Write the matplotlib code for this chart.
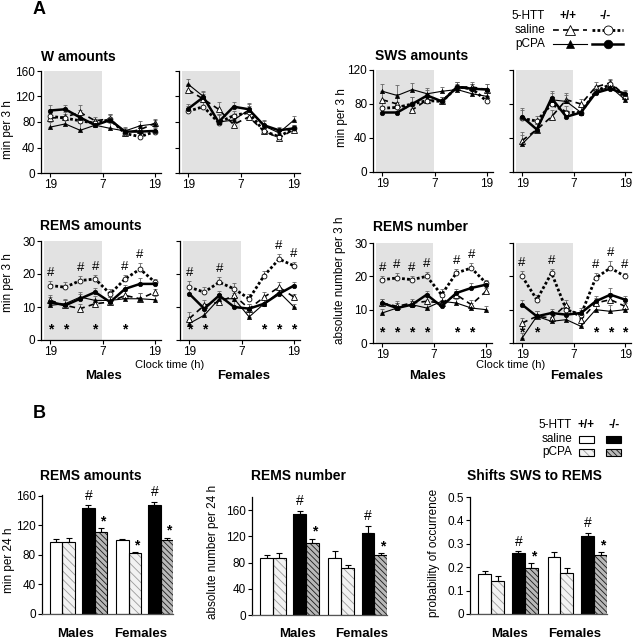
import numpy as np
import matplotlib
matplotlib.use("Agg")
import matplotlib.pyplot as plt

plt.rcParams['font.family'] = ['Liberation Sans', 'DejaVu Sans']
plt.rcParams['hatch.linewidth'] = 0.6

# ---- panel A data: 8 three-hour bins, 19h -> 19h ----
bins = np.arange(8)

# W amounts (min per 3 h)
w_m_wt_sal = [86, 88, 95, 82, 85, 63, 68, 78]
w_m_ko_sal = [89, 86, 82, 78, 84, 62, 57, 65]
w_m_wt_pcpa = [72, 77, 67, 75, 70, 66, 74, 77]
w_m_ko_pcpa = [98, 100, 87, 75, 83, 65, 65, 66]
w_m_err = [8, 7, 12, 6, 8, 6, 8, 6]
w_f_wt_sal = [130, 116, 100, 76, 88, 66, 55, 68]
w_f_ko_sal = [97, 104, 79, 90, 95, 66, 57, 70]
w_f_wt_pcpa = [139, 120, 80, 83, 99, 74, 63, 83]
w_f_ko_pcpa = [101, 119, 80, 104, 100, 75, 67, 70]
w_f_err = [8, 8, 12, 8, 10, 8, 5, 6]

# SWS amounts (min per 3 h)
s_m_wt_sal = [85, 80, 73, 85, 83, 100, 100, 97]
s_m_ko_sal = [75, 76, 80, 84, 83, 100, 98, 83]
s_m_wt_pcpa = [95, 90, 97, 92, 95, 97, 92, 89]
s_m_ko_pcpa = [70, 70, 80, 90, 83, 100, 98, 97]
s_m_err = [8, 12, 8, 7, 5, 6, 6, 6]
s_f_wt_sal = [37, 50, 65, 85, 80, 100, 105, 90]
s_f_ko_sal = [63, 60, 80, 70, 70, 95, 103, 88]
s_f_wt_pcpa = [33, 50, 85, 83, 70, 95, 100, 85]
s_f_ko_pcpa = [65, 50, 87, 65, 70, 93, 98, 92]
s_f_err = [10, 6, 8, 8, 6, 6, 5, 5]

# REMS amounts (min per 3 h)
ra_m_wt_sal = [12, 10.5, 9.5, 11, 11.5, 13.5, 12.5, 14.5]
ra_m_ko_sal = [16.5, 16, 18, 18.5, 14, 18.5, 21.5, 17.5]
ra_m_wt_pcpa = [10.5, 11, 13, 12, 12, 12.5, 12.5, 12.2]
ra_m_ko_pcpa = [11.5, 10.5, 12.5, 14.5, 11.5, 15.5, 17, 17]
ra_m_err = [1.5, 1.5, 1.5, 1.2, 1.5, 1.2, 1.8, 1.0]
ra_f_wt_sal = [6.5, 10.5, 11.5, 13.5, 9.5, 13, 16, 13]
ra_f_ko_sal = [16, 14.5, 17.5, 15.5, 12.5, 19.5, 24.5, 22.5]
ra_f_wt_pcpa = [5, 7.5, 12.5, 12.5, 7, 11, 14.5, 10]
ra_f_ko_pcpa = [14, 9.5, 13.5, 10, 9.5, 11, 14, 16.5]
ra_f_err = [2, 1.5, 1.5, 1.8, 1.5, 1.5, 1.5, 1.0]
ra_m_hash = [0, 2, 3, 5, 6]
ra_m_star = [0, 1, 3, 5]
ra_f_hash = [0, 2, 6, 7]
ra_f_star = [0, 1, 5, 6, 7]

# REMS number (absolute number per 3 h)
rn_m_wt_sal = [12, 11, 12, 12.5, 12, 14.5, 11.5, 15.5]
rn_m_ko_sal = [19, 19.5, 19, 20, 14.5, 21, 22.5, 18]
rn_m_wt_pcpa = [9, 10.5, 11.5, 10.5, 12.5, 12, 10.5, 10]
rn_m_ko_pcpa = [12, 10.5, 11.5, 14.5, 11, 15, 16.5, 17.5]
rn_m_err = [1.2, 1.5, 1.2, 1.2, 1.8, 1.2, 1.5, 1.0]
rn_f_wt_sal = [6, 8, 7.5, 11.5, 7, 12, 13, 11]
rn_f_ko_sal = [20, 13, 21, 10, 8.5, 19.5, 22.5, 20]
rn_f_wt_pcpa = [1.5, 8, 6.5, 7, 5, 10, 9.5, 10]
rn_f_ko_pcpa = [11.5, 8, 9, 8.5, 9, 12.5, 14.5, 13]
rn_f_err = [1.5, 1.5, 1.2, 1.5, 1.5, 1.5, 2, 1.0]
rn_m_hash = [0, 1, 2, 3, 5, 6]
rn_m_star = [0, 1, 2, 3, 5, 6]
rn_f_hash = [0, 2, 5, 6, 7]
rn_f_star = [0, 1, 5, 6, 7]

# ---- panel B data: order +/+ saline, +/+ pCPA, -/- saline, -/- pCPA ----
bar_x = [0, 1, 2.6, 3.6, 5.35, 6.35, 7.95, 8.95]
amt_m = [98, 98, 143, 111]
amt_m_err = [3, 5, 4, 5]
amt_f = [100, 82, 147, 100]
amt_f_err = [2, 1.5, 5, 3]
num_m = [87, 87, 154, 110]
num_m_err = [4, 7, 5, 6]
num_f = [87, 71, 125, 91]
num_f_err = [10, 6, 11, 3]
shift_m = [0.17, 0.14, 0.26, 0.197]
shift_m_err = [0.013, 0.022, 0.008, 0.02]
shift_f = [0.245, 0.177, 0.333, 0.254]
shift_f_err = [0.018, 0.02, 0.015, 0.01]

W, H = 637, 640
fig = plt.figure(figsize=(W / 100, H / 100), dpi=100)


def box(x0, y0, x1, y1):
    return [x0 / W, 1 - y1 / H, (x1 - x0) / W, (y1 - y0) / H]


def ftext(x, y, s, **kw):
    fig.text(x / W, 1 - y / H, s, **kw)


styles = {
    'wt_sal': dict(ls=(0, (3.5, 2.5)), lw=1.2, marker='^', mfc='white', ms=3.8, mew=0.6),
    'ko_sal': dict(ls=(0, (1, 0.8)), lw=2.0, marker='o', mfc='white', ms=3.5, mew=0.6),
    'wt_pcpa': dict(ls='-', lw=0.8, marker='^', mfc='black', ms=3.0, mew=0.5),
    'ko_pcpa': dict(ls='-', lw=1.8, marker='o', mfc='black', ms=3.2, mew=0.5),
}


def line_panel(rect, ymax, yticks, series, err, labels=True, hashes=(), stars=()):
    ax = fig.add_axes(box(*rect))
    ax.axvspan(-0.44, 3.45, color='#e2e2e2', lw=0, zorder=0)
    for key in ['wt_sal', 'ko_sal', 'wt_pcpa', 'ko_pcpa']:
        vals = series[key]
        ax.errorbar(bins, vals, yerr=[np.zeros(8), err], fmt='none', ecolor='#666666',
                    elinewidth=0.6, capsize=1.5, capthick=0.6, zorder=2)
        ax.plot(bins, vals, color='black', zorder=3, **styles[key])
    for i in hashes:
        ax.text(bins[i], series['ko_sal'][i] + err[i] + 0.6, '#', ha='center', va='bottom',
                fontsize=9.5)
    for i in stars:
        ax.text(bins[i], ymax * 0.04, '*', ha='center', va='bottom', fontsize=10, fontweight='bold')
    ax.set_xlim(-0.62, 7.4)
    ax.set_ylim(0, ymax)
    ax.set_xticks([0, 3.5, 7])
    ax.set_xticklabels(['19', '7', '19'])
    ax.set_yticks(yticks)
    if not labels:
        ax.set_yticklabels([])
    for s in ['top', 'right']:
        ax.spines[s].set_visible(False)
    ax.spines['left'].set_linewidth(0.9)
    ax.spines['bottom'].set_linewidth(0.9)
    ax.tick_params(labelsize=8.5, length=3, width=0.8, pad=1.2)
    return ax


def ser(a, b, c, d):
    return {'wt_sal': a, 'ko_sal': b, 'wt_pcpa': c, 'ko_pcpa': d}


# W amounts
line_panel((41, 71, 161, 173), 160, [0, 40, 80, 120, 160],
           ser(w_m_wt_sal, w_m_ko_sal, w_m_wt_pcpa, w_m_ko_pcpa), w_m_err)
line_panel((179, 71, 300, 173), 160, [0, 40, 80, 120, 160],
           ser(w_f_wt_sal, w_f_ko_sal, w_f_wt_pcpa, w_f_ko_pcpa), w_f_err, labels=False)
# SWS amounts
line_panel((373, 70, 493, 172), 120, [0, 40, 80, 120],
           ser(s_m_wt_sal, s_m_ko_sal, s_m_wt_pcpa, s_m_ko_pcpa), s_m_err)
line_panel((513, 70, 631, 172), 120, [0, 40, 80, 120],
           ser(s_f_wt_sal, s_f_ko_sal, s_f_wt_pcpa, s_f_ko_pcpa), s_f_err, labels=False)
# REMS amounts
line_panel((41, 241, 161, 340), 30, [0, 10, 20, 30],
           ser(ra_m_wt_sal, ra_m_ko_sal, ra_m_wt_pcpa, ra_m_ko_pcpa), ra_m_err,
           hashes=ra_m_hash, stars=ra_m_star)
line_panel((180, 241, 300, 340), 30, [0, 10, 20, 30],
           ser(ra_f_wt_sal, ra_f_ko_sal, ra_f_wt_pcpa, ra_f_ko_pcpa), ra_f_err, labels=False,
           hashes=ra_f_hash, stars=ra_f_star)
# REMS number
line_panel((373, 243, 492, 343), 30, [0, 10, 20, 30],
           ser(rn_m_wt_sal, rn_m_ko_sal, rn_m_wt_pcpa, rn_m_ko_pcpa), rn_m_err,
           hashes=rn_m_hash, stars=rn_m_star)
line_panel((513, 243, 631, 343), 30, [0, 10, 20, 30],
           ser(rn_f_wt_sal, rn_f_ko_sal, rn_f_wt_pcpa, rn_f_ko_pcpa), rn_f_err, labels=False,
           hashes=rn_f_hash, stars=rn_f_star)

# ---- bar panels ----
bar_face = ['white', '#f2f2f2', 'black', '#b8b8b8']
bar_hatch = [None, '\\\\\\\\', None, '\\\\\\\\\\\\']
bar_hcol = ['black', '#9a9a9a', 'black', '#1a1a1a']


def bar_panel(rect, ymax, yticks, males, m_err, females, f_err, stars_f=(3,), fmt=None):
    ax = fig.add_axes(box(*rect))
    vals = list(males) + list(females)
    errs = list(m_err) + list(f_err)
    for i, (x, v, e) in enumerate(zip(bar_x, vals, errs)):
        k = i % 4
        ax.errorbar(x, v, yerr=[[0], [e]], fmt='none', ecolor='black', elinewidth=0.8,
                    capsize=2, capthick=0.8, zorder=1)
        ax.bar(x, v, width=1.0, color=bar_face[k], hatch=bar_hatch[k],
               edgecolor=bar_hcol[k], lw=0, zorder=2)
        ax.bar(x, v, width=1.0, fill=False, edgecolor='black', lw=0.8, zorder=3)
    # significance marks
    for g, errs_g, vals_g, starset in [(0, m_err, males, (3,)), (4, f_err, females, stars_f)]:
        ax.text(bar_x[g + 2], vals_g[2] + errs_g[2] + ymax * 0.02, '#', ha='center',
                va='bottom', fontsize=10)
        for k in starset:
            ax.text(bar_x[g + k] + 0.15, vals_g[k] + errs_g[k], '*', ha='center',
                    va='bottom', fontsize=10, fontweight='bold')
    ax.set_xlim(-1.15, 9.45)
    ax.set_ylim(0, ymax)
    ax.set_yticks(yticks)
    if fmt:
        ax.set_yticklabels([fmt(t) for t in yticks])
    ax.set_xticks([])
    for s in ['top', 'right']:
        ax.spines[s].set_visible(False)
    ax.spines['left'].set_linewidth(0.9)
    ax.spines['bottom'].set_linewidth(0.9)
    ax.spines['bottom'].set_color('#555555')
    ax.tick_params(labelsize=8.5, length=3, width=0.8, pad=1.5)
    return ax


bar_panel((42, 495, 173, 614), 161, [0, 40, 80, 120, 160], amt_m, amt_m_err, amt_f, amt_f_err,
          stars_f=(1, 3))
bar_panel((252, 497, 387, 615), 180, [0, 40, 80, 120, 160], num_m, num_m_err, num_f, num_f_err)
bar_panel((470, 497, 607, 614), 0.5, [0, 0.1, 0.2, 0.3, 0.4, 0.5], shift_m, shift_m_err,
          shift_f, shift_f_err, fmt=lambda t: '0' if t == 0 else f'{t:.1f}')

# ---- texts ----
ftext(33, 10, 'A', fontsize=13, fontweight='bold', va='center')
ftext(33, 413, 'B', fontsize=13, fontweight='bold', va='center')

bold = dict(fontsize=10, fontweight='bold', va='center')
ftext(41, 57, 'W amounts', **bold)
ftext(375, 56, 'SWS amounts', **bold)
ftext(40, 226, 'REMS amounts', **bold)
ftext(373, 227, 'REMS number', **bold)
ftext(40, 476, 'REMS amounts', **bold)
ftext(251, 476, 'REMS number', **bold)
ftext(467, 476, 'Shifts SWS to REMS', **bold)

ylab = dict(fontsize=8.5, rotation=90, ha='center', va='center')
ftext(8, 130, 'min per 3 h', **ylab)
ftext(342, 118, 'min per 3 h', **ylab)
ftext(8, 283, 'min per 3 h', **ylab)
ftext(340, 280, 'absolute number per 3 h', **ylab)
ftext(9, 560, 'min per 24 h', **ylab)
ftext(213, 552, 'absolute number per 24 h', **ylab)
ftext(434, 553, 'probability of occurrence', **ylab)

sex = dict(fontsize=9.5, fontweight='bold', ha='center', va='center')
ftext(103, 376, 'Males', **sex)
ftext(244, 376, 'Females', **sex)
ftext(428, 376, 'Males', **sex)
ftext(577, 376, 'Females', **sex)
ftext(170, 365, 'Clock time (h)', fontsize=8, ha='center', va='center')
ftext(511, 365, 'Clock time (h)', fontsize=8, ha='center', va='center')
ftext(75, 634, 'Males', **sex)
ftext(141, 634, 'Females', **sex)
ftext(298, 634, 'Males', **sex)
ftext(362, 634, 'Females', **sex)
ftext(509, 634, 'Males', **sex)
ftext(575, 634, 'Females', **sex)

# ---- legends ----
lg = fig.add_axes([0, 0, 1, 1], zorder=10)
lg.set_xlim(0, W)
lg.set_ylim(H, 0)
lg.axis('off')
lg.patch.set_alpha(0)

lt = dict(fontsize=8.5, ha='right', va='center')
lb = dict(fontsize=8.5, fontweight='bold', ha='center', va='center')
lg.text(545, 16, '5-HTT', **lt)
lg.text(568, 16, '+/+', **lb)
lg.text(605, 16, '-/-', **lb)
lg.text(545, 30, 'saline', **lt)
lg.text(545, 44, 'pCPA', **lt)
for key, x0, x1, y in [('wt_sal', 553, 587, 30), ('ko_sal', 592, 623, 30),
                       ('wt_pcpa', 553, 587, 44), ('ko_pcpa', 592, 623, 44)]:
    st = dict(styles[key])
    marker = st.pop('marker')
    mfc = st.pop('mfc')
    ms = st.pop('ms')
    mew = st.pop('mew')
    lg.plot([x0, x1], [y, y], color='black', **st)
    lg.plot([(x0 + x1) / 2], [y], marker=marker, mfc=mfc, mec='black', ms=ms + 3, mew=mew,
            ls='none')

lg.text(572, 425, '5-HTT', **lt)
lg.text(586, 425, '+/+', **lb)
lg.text(614, 425, '-/-', **lb)
lg.text(572, 439, 'saline', **lt)
lg.text(572, 452, 'pCPA', **lt)
for idx, (x, y) in enumerate([(579, 436), (579, 449), (606, 436), (606, 449)]):
    lg.bar(x, 6.5, width=15, bottom=y, align='edge', color=bar_face[idx], hatch=bar_hatch[idx],
           edgecolor=bar_hcol[idx], lw=0)
    lg.bar(x, 6.5, width=15, bottom=y, align='edge', fill=False, edgecolor='black', lw=0.8)

fig.savefig('out.png', dpi=100)
